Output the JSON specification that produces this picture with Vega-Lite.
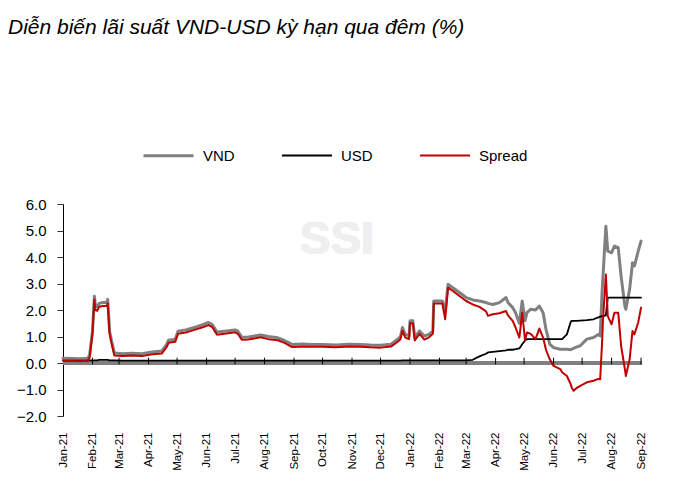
{
  "$schema": "https://vega.github.io/schema/vega-lite/v6.json",
  "autosize": "none",
  "width": 579,
  "height": 212,
  "padding": {"left": 63, "top": 204, "right": 42, "bottom": 88},
  "background": "white",
  "config": {
    "view": {"stroke": null},
    "axis": {"grid": false}
  },
  "title": {
    "text": "Diễn biến lãi suất VND-USD kỳ hạn qua đêm (%)",
    "anchor": "start",
    "frame": "group",
    "font": "Liberation Sans",
    "fontSize": 21,
    "fontStyle": "italic",
    "fontWeight": "normal",
    "color": "#000000",
    "dx": -55,
    "offset": 91
  },
  "data": {
    "values": [
      {"d": "2021-01-01", "VND": 0.18, "USD": 0.09, "Spread": 0.09},
      {"d": "2021-01-10", "VND": 0.17, "USD": 0.09, "Spread": 0.08},
      {"d": "2021-01-20", "VND": 0.16, "USD": 0.09, "Spread": 0.07},
      {"d": "2021-01-27", "VND": 0.18, "USD": 0.09, "Spread": 0.09},
      {"d": "2021-01-29", "VND": 0.3, "USD": 0.1, "Spread": 0.2},
      {"d": "2021-02-01", "VND": 1.2, "USD": 0.1, "Spread": 1.1},
      {"d": "2021-02-03", "VND": 2.52, "USD": 0.1, "Spread": 2.4},
      {"d": "2021-02-04", "VND": 2.2, "USD": 0.1, "Spread": 2.0},
      {"d": "2021-02-06", "VND": 2.12, "USD": 0.1, "Spread": 1.97},
      {"d": "2021-02-08", "VND": 2.25, "USD": 0.12, "Spread": 2.12},
      {"d": "2021-02-12", "VND": 2.28, "USD": 0.12, "Spread": 2.15},
      {"d": "2021-02-16", "VND": 2.28, "USD": 0.12, "Spread": 2.15},
      {"d": "2021-02-17", "VND": 2.4, "USD": 0.12, "Spread": 2.25},
      {"d": "2021-02-19", "VND": 1.2, "USD": 0.1, "Spread": 1.1},
      {"d": "2021-02-21", "VND": 0.85, "USD": 0.1, "Spread": 0.75},
      {"d": "2021-02-24", "VND": 0.38, "USD": 0.1, "Spread": 0.28},
      {"d": "2021-03-05", "VND": 0.35, "USD": 0.09, "Spread": 0.26},
      {"d": "2021-03-15", "VND": 0.37, "USD": 0.09, "Spread": 0.28},
      {"d": "2021-03-25", "VND": 0.35, "USD": 0.09, "Spread": 0.26},
      {"d": "2021-04-05", "VND": 0.42, "USD": 0.09, "Spread": 0.33},
      {"d": "2021-04-15", "VND": 0.45, "USD": 0.09, "Spread": 0.36},
      {"d": "2021-04-20", "VND": 0.7, "USD": 0.09, "Spread": 0.6},
      {"d": "2021-04-22", "VND": 0.86, "USD": 0.09, "Spread": 0.76},
      {"d": "2021-04-29", "VND": 0.9, "USD": 0.09, "Spread": 0.8},
      {"d": "2021-05-02", "VND": 1.2, "USD": 0.09, "Spread": 1.1},
      {"d": "2021-05-10", "VND": 1.25, "USD": 0.09, "Spread": 1.15},
      {"d": "2021-05-20", "VND": 1.35, "USD": 0.09, "Spread": 1.26},
      {"d": "2021-05-28", "VND": 1.45, "USD": 0.09, "Spread": 1.35},
      {"d": "2021-06-03", "VND": 1.53, "USD": 0.09, "Spread": 1.43},
      {"d": "2021-06-07", "VND": 1.45, "USD": 0.09, "Spread": 1.35},
      {"d": "2021-06-12", "VND": 1.17, "USD": 0.09, "Spread": 1.07},
      {"d": "2021-06-20", "VND": 1.2, "USD": 0.09, "Spread": 1.1},
      {"d": "2021-07-01", "VND": 1.25, "USD": 0.09, "Spread": 1.16},
      {"d": "2021-07-04", "VND": 1.2, "USD": 0.09, "Spread": 1.1},
      {"d": "2021-07-08", "VND": 0.97, "USD": 0.09, "Spread": 0.88},
      {"d": "2021-07-15", "VND": 0.98, "USD": 0.09, "Spread": 0.89},
      {"d": "2021-07-28", "VND": 1.06, "USD": 0.09, "Spread": 0.97},
      {"d": "2021-08-05", "VND": 1.0, "USD": 0.09, "Spread": 0.9},
      {"d": "2021-08-15", "VND": 0.95, "USD": 0.09, "Spread": 0.86},
      {"d": "2021-08-22", "VND": 0.85, "USD": 0.09, "Spread": 0.76},
      {"d": "2021-08-30", "VND": 0.7, "USD": 0.09, "Spread": 0.6},
      {"d": "2021-09-10", "VND": 0.72, "USD": 0.09, "Spread": 0.62},
      {"d": "2021-09-20", "VND": 0.7, "USD": 0.09, "Spread": 0.61},
      {"d": "2021-10-01", "VND": 0.7, "USD": 0.09, "Spread": 0.61},
      {"d": "2021-10-15", "VND": 0.68, "USD": 0.09, "Spread": 0.59},
      {"d": "2021-10-29", "VND": 0.71, "USD": 0.09, "Spread": 0.62},
      {"d": "2021-11-10", "VND": 0.7, "USD": 0.09, "Spread": 0.61},
      {"d": "2021-11-20", "VND": 0.68, "USD": 0.09, "Spread": 0.59},
      {"d": "2021-12-01", "VND": 0.67, "USD": 0.09, "Spread": 0.58},
      {"d": "2021-12-12", "VND": 0.71, "USD": 0.09, "Spread": 0.62},
      {"d": "2021-12-19", "VND": 0.9, "USD": 0.09, "Spread": 0.8},
      {"d": "2021-12-22", "VND": 1.0, "USD": 0.09, "Spread": 0.9},
      {"d": "2021-12-24", "VND": 1.34, "USD": 0.1, "Spread": 1.22},
      {"d": "2021-12-27", "VND": 1.08, "USD": 0.1, "Spread": 0.96},
      {"d": "2021-12-31", "VND": 1.02, "USD": 0.1, "Spread": 0.9},
      {"d": "2022-01-01", "VND": 1.59, "USD": 0.1, "Spread": 1.5},
      {"d": "2022-01-04", "VND": 1.59, "USD": 0.1, "Spread": 1.5},
      {"d": "2022-01-06", "VND": 0.96, "USD": 0.1, "Spread": 0.85},
      {"d": "2022-01-11", "VND": 1.21, "USD": 0.1, "Spread": 1.1},
      {"d": "2022-01-16", "VND": 1.02, "USD": 0.1, "Spread": 0.88},
      {"d": "2022-01-21", "VND": 1.08, "USD": 0.1, "Spread": 0.97},
      {"d": "2022-01-25", "VND": 1.21, "USD": 0.1, "Spread": 1.1},
      {"d": "2022-01-26", "VND": 2.34, "USD": 0.1, "Spread": 2.25},
      {"d": "2022-02-04", "VND": 2.34, "USD": 0.1, "Spread": 2.25},
      {"d": "2022-02-07", "VND": 1.96, "USD": 0.1, "Spread": 1.65},
      {"d": "2022-02-10", "VND": 2.97, "USD": 0.1, "Spread": 2.84},
      {"d": "2022-02-15", "VND": 2.84, "USD": 0.1, "Spread": 2.72},
      {"d": "2022-02-22", "VND": 2.66, "USD": 0.1, "Spread": 2.53},
      {"d": "2022-03-01", "VND": 2.47, "USD": 0.1, "Spread": 2.34},
      {"d": "2022-03-08", "VND": 2.38, "USD": 0.12, "Spread": 2.21},
      {"d": "2022-03-15", "VND": 2.34, "USD": 0.25, "Spread": 2.12},
      {"d": "2022-03-22", "VND": 2.28, "USD": 0.35, "Spread": 1.95},
      {"d": "2022-03-24", "VND": 2.25, "USD": 0.4, "Spread": 1.78},
      {"d": "2022-03-29", "VND": 2.21, "USD": 0.42, "Spread": 1.84},
      {"d": "2022-04-05", "VND": 2.28, "USD": 0.45, "Spread": 1.88},
      {"d": "2022-04-12", "VND": 2.47, "USD": 0.48, "Spread": 1.96},
      {"d": "2022-04-14", "VND": 2.28, "USD": 0.5, "Spread": 1.8},
      {"d": "2022-04-19", "VND": 2.09, "USD": 0.5, "Spread": 1.59},
      {"d": "2022-04-22", "VND": 1.9, "USD": 0.52, "Spread": 1.34},
      {"d": "2022-04-26", "VND": 1.5, "USD": 0.55, "Spread": 0.96},
      {"d": "2022-04-29", "VND": 2.34, "USD": 0.71, "Spread": 1.9},
      {"d": "2022-05-02", "VND": 1.6, "USD": 0.85, "Spread": 0.85},
      {"d": "2022-05-04", "VND": 1.9, "USD": 0.9, "Spread": 1.15},
      {"d": "2022-05-08", "VND": 2.03, "USD": 0.9, "Spread": 1.1},
      {"d": "2022-05-13", "VND": 2.0, "USD": 0.9, "Spread": 0.9},
      {"d": "2022-05-17", "VND": 2.15, "USD": 0.9, "Spread": 1.3},
      {"d": "2022-05-21", "VND": 1.9, "USD": 0.9, "Spread": 0.96},
      {"d": "2022-05-24", "VND": 1.27, "USD": 0.9, "Spread": 0.5},
      {"d": "2022-05-28", "VND": 0.71, "USD": 0.9, "Spread": 0.14},
      {"d": "2022-06-01", "VND": 0.58, "USD": 0.9, "Spread": -0.11},
      {"d": "2022-06-08", "VND": 0.52, "USD": 0.9, "Spread": -0.23},
      {"d": "2022-06-10", "VND": 0.52, "USD": 0.9, "Spread": -0.35},
      {"d": "2022-06-15", "VND": 0.52, "USD": 1.08, "Spread": -0.49},
      {"d": "2022-06-19", "VND": 0.5, "USD": 1.55, "Spread": -0.8},
      {"d": "2022-06-20", "VND": 0.52, "USD": 1.59, "Spread": -0.92},
      {"d": "2022-06-22", "VND": 0.55, "USD": 1.59, "Spread": -1.05},
      {"d": "2022-06-25", "VND": 0.6, "USD": 1.59, "Spread": -0.95},
      {"d": "2022-06-29", "VND": 0.65, "USD": 1.6, "Spread": -0.86},
      {"d": "2022-07-06", "VND": 0.9, "USD": 1.62, "Spread": -0.73},
      {"d": "2022-07-13", "VND": 0.96, "USD": 1.65, "Spread": -0.67},
      {"d": "2022-07-18", "VND": 1.08, "USD": 1.72, "Spread": -0.6},
      {"d": "2022-07-20", "VND": 1.02, "USD": 1.75, "Spread": -0.61},
      {"d": "2022-07-22", "VND": 2.66, "USD": 1.77, "Spread": 0.77},
      {"d": "2022-07-23", "VND": 3.28, "USD": 1.77, "Spread": 1.65},
      {"d": "2022-07-26", "VND": 5.16, "USD": 1.8, "Spread": 3.34},
      {"d": "2022-07-28", "VND": 4.22, "USD": 2.47, "Spread": 1.77},
      {"d": "2022-08-01", "VND": 4.16, "USD": 2.47, "Spread": 1.46},
      {"d": "2022-08-04", "VND": 4.41, "USD": 2.47, "Spread": 1.9},
      {"d": "2022-08-08", "VND": 4.35, "USD": 2.47, "Spread": 1.9},
      {"d": "2022-08-11", "VND": 3.28, "USD": 2.47, "Spread": 0.65},
      {"d": "2022-08-15", "VND": 2.15, "USD": 2.47, "Spread": -0.23},
      {"d": "2022-08-16", "VND": 2.03, "USD": 2.47, "Spread": -0.49},
      {"d": "2022-08-20", "VND": 2.78, "USD": 2.47, "Spread": 0.14},
      {"d": "2022-08-23", "VND": 3.78, "USD": 2.47, "Spread": 1.21},
      {"d": "2022-08-25", "VND": 3.66, "USD": 2.47, "Spread": 1.08},
      {"d": "2022-08-29", "VND": 4.22, "USD": 2.47, "Spread": 1.53},
      {"d": "2022-09-01", "VND": 4.6, "USD": 2.47, "Spread": 2.09}
    ]
  },
  "layer": [
    {
      "mark": {"type": "text", "font": "Liberation Sans", "fontWeight": "bold", "fontSize": 46, "color": "#efefef", "align": "center", "baseline": "middle"},
      "encoding": {
        "x": {
          "datum": {"year": 2021, "month": 10, "date": 16, "utc": true},
          "type": "temporal",
          "scale": {"type": "utc", "domain": [{"year": 2021, "month": 1, "date": 1, "utc": true}, {"year": 2022, "month": 9, "date": 2, "utc": true}]},
          "axis": {
            "title": null,
            "format": "%b-%y",
            "tickCount": {"interval": "month", "step": 1},
            "labelAngle": -90,
            "labelFont": "Liberation Sans",
            "labelFontSize": 11.5,
            "labelColor": "#000000",
            "labelPadding": 16,
            "labelFlush": false,
            "labelOverlap": false,
            "labelBound": false,
            "ticks": false,
            "domain": false
          }
        },
        "y": {
          "datum": 4.63,
          "type": "quantitative",
          "scale": {"domain": [-2, 6], "nice": false, "zero": false},
          "axis": {
            "title": null,
            "tickCount": {"signal": "8"},
            "tickMinStep": 1,
            "format": ".1f",
            "labelFont": "Liberation Sans",
            "labelFontSize": 15,
            "labelColor": "#000000",
            "labelPadding": 11,
            "labelOverlap": false,
            "labelSeparation": -20,
            "labelFlush": false,
            "labelBound": false,
            "tickSize": 6,
            "tickColor": "#333333",
            "domainColor": "#000000",
            "domainWidth": 1
          }
        },
        "text": {"value": "SSI"}
      }
    },
    {
      "mark": {"type": "rule", "color": "#808080", "strokeWidth": 2.5},
      "encoding": {"y": {"datum": 0, "type": "quantitative"}}
    },
    {
      "data": {"values": [
        {"m": "2021-02-01"}, {"m": "2021-03-01"}, {"m": "2021-04-01"}, {"m": "2021-05-01"},
        {"m": "2021-06-01"}, {"m": "2021-07-01"}, {"m": "2021-08-01"}, {"m": "2021-09-01"},
        {"m": "2021-10-01"}, {"m": "2021-11-01"}, {"m": "2021-12-01"}, {"m": "2022-01-01"},
        {"m": "2022-02-01"}, {"m": "2022-03-01"}, {"m": "2022-04-01"}, {"m": "2022-05-01"},
        {"m": "2022-06-01"}, {"m": "2022-07-01"}, {"m": "2022-08-01"}, {"m": "2022-09-01"}
      ]},
      "mark": {"type": "rule", "color": "#000000", "strokeWidth": 1},
      "encoding": {
        "x": {"field": "m", "type": "temporal"},
        "y": {"datum": -0.05, "type": "quantitative"},
        "y2": {"datum": 0.2}
      }
    },
    {
      "transform": [{"fold": ["VND", "USD", "Spread"], "as": ["series", "value"]}],
      "mark": {"type": "line", "strokeJoin": "round", "strokeCap": "round"},
      "encoding": {
        "x": {"field": "d", "type": "temporal"},
        "y": {"field": "value", "type": "quantitative"},
        "color": {
          "field": "series",
          "type": "nominal",
          "sort": ["VND", "USD", "Spread"],
          "scale": {"domain": ["VND", "USD", "Spread"], "range": ["#808080", "#000000", "#c00000"]},
          "legend": {
            "title": null,
            "orient": "none",
            "direction": "horizontal",
            "legendX": 79,
            "legendY": -75,
            "symbolType": "stroke",
            "symbolSize": 2500,
            "labelFont": "Liberation Sans",
            "labelFontSize": 15,
            "labelColor": "#000000",
            "labelOffset": 8,
            "columnPadding": 43
          }
        },
        "strokeWidth": {
          "field": "series",
          "type": "nominal",
          "sort": ["VND", "USD", "Spread"],
          "scale": {"type": "ordinal", "domain": ["VND", "USD", "Spread"], "range": [3, 1.8, 2]},
          "legend": {
            "title": null,
            "orient": "none",
            "direction": "horizontal",
            "legendX": 79,
            "legendY": -75,
            "symbolType": "stroke",
            "symbolSize": 2500,
            "labelFont": "Liberation Sans",
            "labelFontSize": 15,
            "labelColor": "#000000",
            "labelOffset": 8,
            "columnPadding": 43
          }
        }
      }
    }
  ]
}
